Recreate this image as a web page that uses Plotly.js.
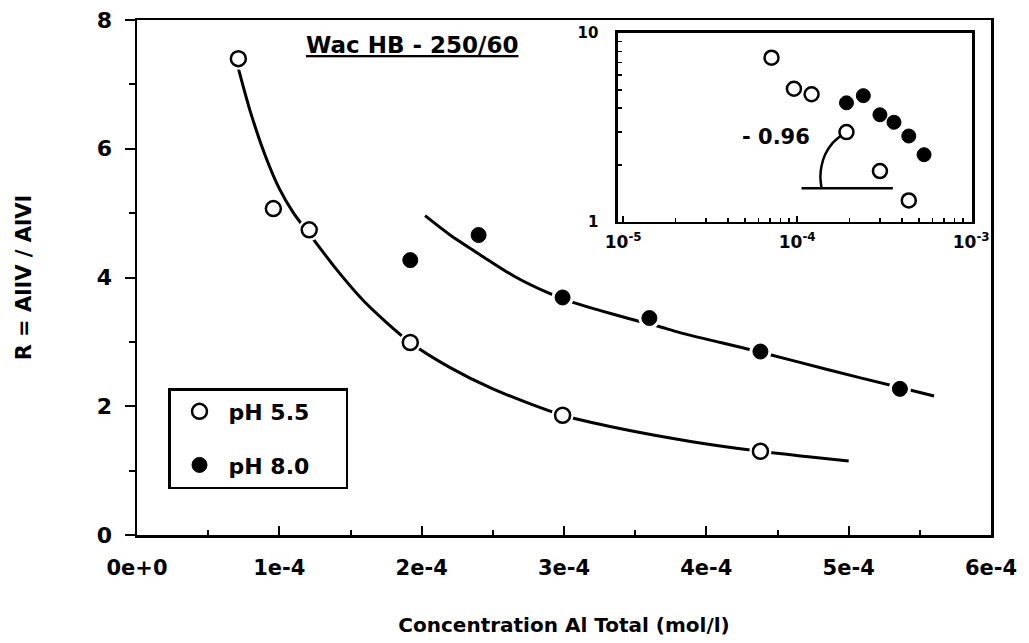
<!DOCTYPE html>
<html><head><meta charset="utf-8">
<script src="https://cdn.plot.ly/plotly-3.0.1.min.js"></script>
<style>html,body{margin:0;padding:0;background:#fff}#chart{width:1029px;height:643px}</style>
</head><body><div id="chart"></div>
<script>
// measured data (Al total in mol/l, R = AlIV/AlVI)
const ph55X = [0.712e-4, 0.958e-4, 1.21e-4, 1.92e-4, 2.99e-4, 4.38e-4];
const ph55Y = [7.40, 5.07, 4.74, 2.99, 1.86, 1.30];
const ph80X = [1.92e-4, 2.40e-4, 2.99e-4, 3.60e-4, 4.38e-4, 5.36e-4];
const ph80Y = [4.27, 4.66, 3.69, 3.37, 2.85, 2.27];
// fitted curves
const fit55X = [0.712e-4,0.80e-4,0.90e-4,1.0e-4,1.1e-4,1.21e-4,1.4e-4,1.6e-4,1.92e-4,2.2e-4,2.5e-4,2.99e-4,3.4e-4,3.9e-4,4.38e-4,4.7e-4,5.0e-4];
const fit55Y = [7.25,6.55,5.90,5.38,5.00,4.68,4.13,3.62,2.99,2.60,2.27,1.86,1.65,1.45,1.30,1.22,1.15];
const fit80X = [2.024e-4,2.2e-4,2.434e-4,2.65e-4,2.89e-4,3.04e-4,3.25e-4,3.46e-4,3.65e-4,3.82e-4,4.1e-4,4.38e-4,4.85e-4,5.36e-4,5.6e-4];
const fit80Y = [4.96,4.66,4.32,4.02,3.76,3.63,3.49,3.36,3.25,3.14,2.99,2.84,2.57,2.29,2.16];
// slope marker in the inset
const slopeArcX = [1.80e-4, 1.60e-4, 1.45e-4, 1.38e-4, 1.36e-4, 1.38e-4];
const slopeArcY = [2.88, 2.62, 2.28, 1.98, 1.74, 1.51];
const slopeBaseX = [1.059e-4, 3.547e-4];
const slopeBaseY = [1.51, 1.51];
const slopeText = "- 0.96";
// ticks
const xTickVals = [0, 1e-4, 2e-4, 3e-4, 4e-4, 5e-4, 6e-4];
const xTickText = ["0e+0", "1e-4", "2e-4", "3e-4", "4e-4", "5e-4", "6e-4"];
const xMinorVals = [0.5e-4, 1.5e-4, 2.5e-4, 3.5e-4, 4.5e-4, 5.5e-4];
const yTickVals = [0, 2, 4, 6, 8];
const yMinorVals = [1, 3, 5, 7];
const insetXTickVals = [1e-5, 1e-4, 1e-3];
const insetXTickText = ["10<sup>-5</sup>", "10<sup>-4</sup>", "10<sup>-3</sup>"];
const insetXMinor = [2e-5,3e-5,4e-5,5e-5,6e-5,7e-5,8e-5,9e-5,2e-4,3e-4,4e-4,5e-4,6e-4,7e-4,8e-4,9e-4];
const insetYTickVals = [1, 10];
const insetYTickText = ["1", "10"];
const insetYMinor = [2,3,4,5,6,7,8,9];
const titleText = "<u>Wac HB - 250/60</u>";
const xTitle = "Concentration Al Total (mol/l)";
const yTitle = "R = AlIV / AlVI";
const legendNames = ["pH 5.5", "pH 8.0"];

const F = "DejaVu Sans, Liberation Sans, Arial, sans-serif";
const bf = (s) => ({family: F, size: s, color: "#000", weight: "bold"});
const pad = "\u00a0\u00a0\u00a0\u00a0";

const traces = [
  {x: fit55X, y: fit55Y, mode: "lines", line: {color: "#000", width: 3, shape: "spline", smoothing: 0.8}, showlegend: false, hoverinfo: "skip"},
  {x: fit80X, y: fit80Y, mode: "lines", line: {color: "#000", width: 3, shape: "spline", smoothing: 0.8}, showlegend: false, hoverinfo: "skip"},
  {x: ph55X, y: ph55Y, mode: "markers", marker: {size: 22, color: "#fff"}, showlegend: false, hoverinfo: "skip"},
  {x: ph80X, y: ph80Y, mode: "markers", marker: {size: 22, color: "#fff"}, showlegend: false, hoverinfo: "skip"},
  {x: ph55X, y: ph55Y, mode: "markers", name: legendNames[0] + pad, legendgroup: "a",
   marker: {symbol: "circle", size: 15, color: "#fff", line: {color: "#000", width: 2.5}}},
  {x: ph80X, y: ph80Y, mode: "markers", name: legendNames[1] + pad, legendgroup: "b",
   marker: {symbol: "circle", size: 15, color: "#000", line: {color: "#000", width: 1}}},
  {x: slopeArcX, y: slopeArcY, xaxis: "x2", yaxis: "y2", mode: "lines", line: {color: "#000", width: 2.5, shape: "spline"}, showlegend: false, hoverinfo: "skip"},
  {x: slopeBaseX, y: slopeBaseY, xaxis: "x2", yaxis: "y2", mode: "lines", line: {color: "#000", width: 2.5}, showlegend: false, hoverinfo: "skip"},
  {x: ph55X, y: ph55Y, xaxis: "x2", yaxis: "y2", mode: "markers", showlegend: false,
   marker: {symbol: "circle", size: 14, color: "#fff", line: {color: "#000", width: 2.5}}},
  {x: ph80X, y: ph80Y, xaxis: "x2", yaxis: "y2", mode: "markers", showlegend: false,
   marker: {symbol: "circle", size: 14, color: "#000", line: {color: "#000", width: 1}}}
];

const layout = {
  width: 1029, height: 643,
  margin: {l: 137, r: 38, t: 20, b: 108},
  paper_bgcolor: "#fff", plot_bgcolor: "#fff",
  font: bf(20),
  showlegend: true,
  legend: {x: 0.0363, y: 0.2854, xanchor: "left", yanchor: "top",
    bordercolor: "#000", borderwidth: 2.5, bgcolor: "#fff",
    font: bf(22), traceorder: "grouped", tracegroupgap: 22, itemwidth: 48},
  xaxis: {domain: [0, 1], range: [0, 6e-4], tickvals: xTickVals, ticktext: xTickText,
    ticks: "inside", ticklen: 9, tickwidth: 2, tickcolor: "#000",
    minor: {tickvals: xMinorVals, ticks: "inside", ticklen: 5, tickwidth: 2, tickcolor: "#000"},
    showline: true, linewidth: 2.5, linecolor: "#000", mirror: true,
    showgrid: false, zeroline: false, tickfont: bf(21), ticklabelstandoff: 12,
    title: {text: xTitle, font: bf(20), standoff: 40}},
  yaxis: {domain: [0, 1], range: [0, 8], tickvals: yTickVals,
    ticks: "outside", ticklen: 10, tickwidth: 2, tickcolor: "#000",
    minor: {tickvals: yMinorVals, ticks: "outside", ticklen: 6, tickwidth: 2, tickcolor: "#000"},
    showline: true, linewidth: 2.5, linecolor: "#000", mirror: true,
    showgrid: false, zeroline: false, tickfont: bf(22), ticklabelstandoff: 8,
    title: {text: yTitle, font: bf(21), standoff: 60}},
  xaxis2: {type: "log", domain: [0.5632, 0.9778], range: [-5.03, -2.995], anchor: "y2",
    tickvals: insetXTickVals, ticktext: insetXTickText,
    ticks: "inside", ticklen: 6, tickwidth: 2, tickcolor: "#000",
    minor: {tickvals: insetXMinor, ticks: "inside", ticklen: 4, tickwidth: 1.5, tickcolor: "#000"},
    showline: true, linewidth: 2.5, linecolor: "#000", mirror: true,
    showgrid: false, zeroline: false, tickfont: bf(17), ticklabelstandoff: 3},
  yaxis2: {type: "log", domain: [0.6078, 0.9748], range: [0, 1], anchor: "x2",
    tickvals: insetYTickVals, ticktext: insetYTickText,
    ticks: "inside", ticklen: 6, tickwidth: 2, tickcolor: "#000",
    minor: {tickvals: insetYMinor, ticks: "inside", ticklen: 4, tickwidth: 1.5, tickcolor: "#000"},
    showline: true, linewidth: 2.5, linecolor: "#000", mirror: true,
    showgrid: false, zeroline: false, tickfont: bf(15), ticklabelstandoff: 14},
  annotations: [
    {text: titleText, xref: "paper", yref: "paper", x: 0.322, y: 0.951, showarrow: false,
     xanchor: "center", yanchor: "middle", font: bf(23)},
    {text: slopeText, xref: "x2", yref: "y2", x: -4.123, y: 0.45, showarrow: false,
     xanchor: "center", yanchor: "middle", font: bf(21)}
  ]
};

Plotly.newPlot("chart", traces, layout, {staticPlot: true, displayModeBar: false});
</script>
</body></html>
